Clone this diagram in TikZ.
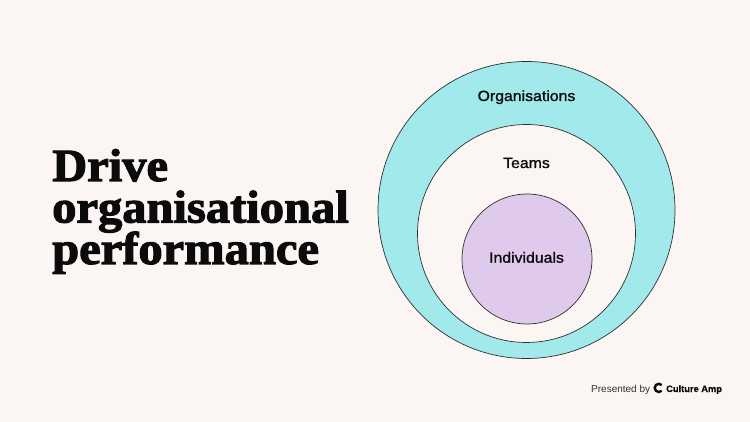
\documentclass[tikz,border=0pt]{standalone}
\usepackage{fontspec}
\setmainfont{Liberation Sans}
\newfontfamily\titlefont[FakeBold=2.4,FakeStretch=1.055]{Liberation Serif Bold}
\newfontfamily\labelfont[FakeBold=1.2,FakeStretch=1.07]{Liberation Sans}
\newfontfamily\logofont[FakeBold=0.6]{Liberation Sans Bold}
\definecolor{pagebg}{HTML}{FBF6F3}
\definecolor{teal}{HTML}{A2E9EB}
\definecolor{lilac}{HTML}{DFCAEB}
\definecolor{ink}{HTML}{0B0B0B}
\tikzset{
  ring/.style={circle,draw=ink!85,line width=0.7pt,inner sep=0pt,outer sep=0pt},
  ringlabel/.style={anchor=base,inner sep=0pt,text=ink,font=\labelfont\fontsize{14.8}{14.8}\selectfont},
  headline/.style={anchor=base west,inner sep=0pt,text=ink,font=\titlefont\fontsize{46}{46}\selectfont},
  credit/.style={anchor=base west,inner sep=0pt,text=ink!85,font=\fontsize{10}{10}\selectfont},
  creditbold/.style={anchor=base west,inner sep=0pt,text=ink,font=\logofont\fontsize{9.3}{9.3}\selectfont}
}
\begin{document}
\begin{tikzpicture}[x=1pt,y=-1pt]
\fill[pagebg] (0,0) rectangle (750,422);
\useasboundingbox (0,0) rectangle (750,422);
\node[ring,fill=teal,minimum size=297pt] (org) at (526.5,210) {};
\node[ring,fill=pagebg,minimum size=218pt] (teams) at (526.5,233.5) {};
\node[ring,fill=lilac,minimum size=130pt] (ind) at (527,259) {};
\node[ringlabel] (orgl) at (526.5,101) {Organisations};
\node[ringlabel] (teamsl) at (526.5,168) {Teams};
\node[ringlabel] (indl) at (526.5,262.7) {Individuals};
\node[headline] (t1) at (52,181) {Drive};
\node[headline] (t2) at (52,222.5) {organisational};
\node[headline] (t3) at (52,264) {performance};
\node[credit] (pres) at (591,392) {Presented by};
\draw[ink,line width=2.4pt] (661.7,385) arc[start angle=45,end angle=315,radius=4.1pt];
\node[creditbold] (ca) at (666,392) {Culture Amp};
\end{tikzpicture}
\end{document}
